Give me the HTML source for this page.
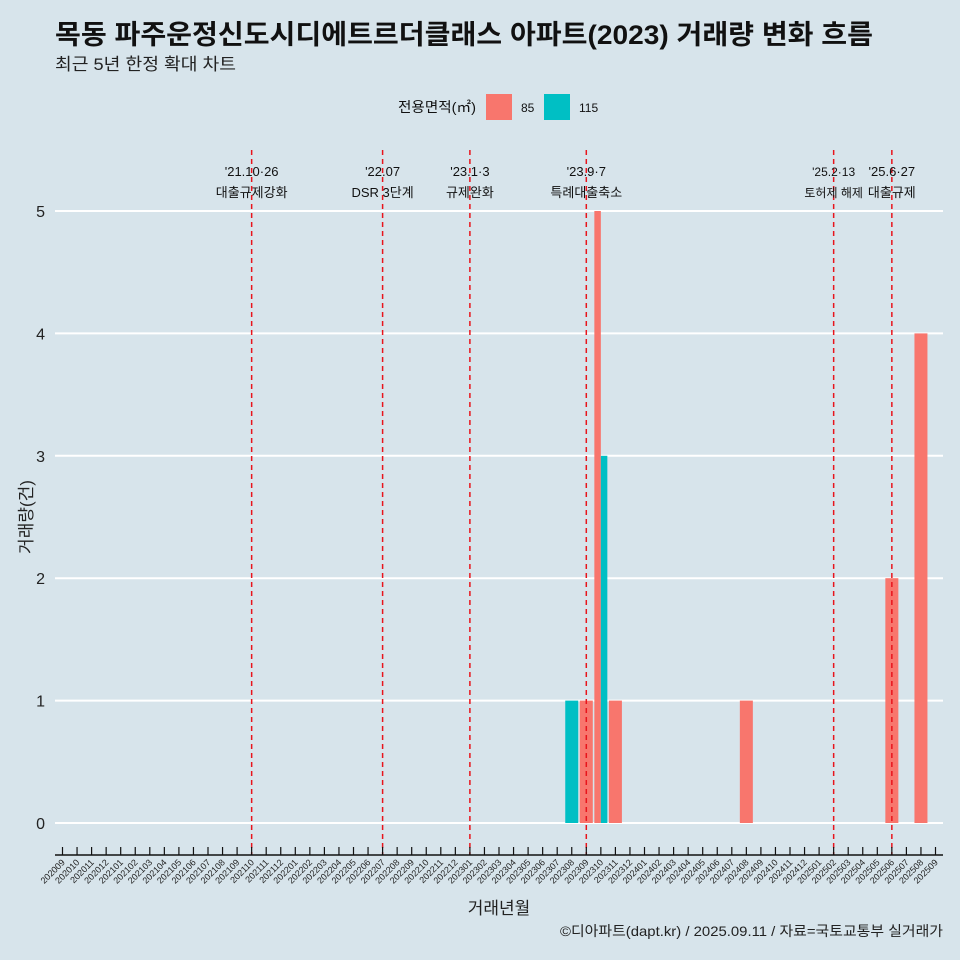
<!DOCTYPE html>
<html><head><meta charset="utf-8"><style>
body{margin:0;background:#d7e4eb;font-family:"Liberation Sans","Noto Sans CJK KR",sans-serif;overflow:hidden}
svg text{font-family:"Liberation Sans","Noto Sans CJK KR",sans-serif}
</style></head><body>
<svg id="c" width="960" height="960" style="display:block">
<rect width="960" height="960" fill="#d7e4eb"/>
<text x="55" y="44" font-size="27" font-weight="bold" fill="#111" textLength="818" lengthAdjust="spacingAndGlyphs">목동 파주운정신도시디에트르더클래스 아파트(2023) 거래량 변화 흐름</text>
<text x="55" y="70" font-size="17" fill="#222" textLength="181" lengthAdjust="spacingAndGlyphs">최근 5년 한정 확대 차트</text>
<g>
<text x="398" y="112" font-size="14" fill="#111" textLength="78" lengthAdjust="spacingAndGlyphs">전용면적(㎡)</text>
<rect x="486" y="94" width="26" height="26" fill="#F8766D"/>
<text x="521" y="112" font-size="12" fill="#111">85</text>
<rect x="544" y="94" width="26" height="26" fill="#00BFC4"/>
<text x="579" y="112" font-size="12" fill="#111">115</text>
</g>
<g id="grid"></g><g id="bars"></g><g id="vl"></g><g id="xa"></g>
<text x="32" y="517" font-size="17" fill="#222" transform="rotate(-90 32 517)" text-anchor="middle">거래량(건)</text>
<text x="499" y="914" font-size="17" fill="#222" text-anchor="middle">거래년월</text>
<text x="943" y="936" font-size="14" fill="#222" text-anchor="end" textLength="383" lengthAdjust="spacingAndGlyphs">©디아파트(dapt.kr) / 2025.09.11 / 자료=국토교통부 실거래가</text>
</svg>
<script>
const yTicks=[0,1,2,3,4,5];
const bars85=[["202309",1],["202310",5],["202311",1],["202408",1],["202506",2],["202508",4]];
const bars115=[["202308",1],["202310",3]];
const events=[["202110","'21.10·26","대출규제강화",13],["202207","'22.07","DSR 3단계",13],["202301","'23.1·3","규제완화",13],["202309","'23.9·7","특례대출축소",13],["202502","'25.2·13","토허제 해제",12],["202506","'25.6·27","대출규제",13]];
const months=[];for(let y=2020,m=9;y*100+m<=202509;){months.push(String(y*100+m));m++;if(m>12){m=1;y++;}}
const NS="http://www.w3.org/2000/svg";
function mk(t,a,p,txt){const e=document.createElementNS(NS,t);for(const k in a)e.setAttribute(k,a[k]);if(txt!=null)e.textContent=txt;document.getElementById(p).appendChild(e);return e;}
const X=m=>62.5+months.indexOf(m)*14.55, Y=v=>823-v*122.4, W=13;
yTicks.forEach(v=>{const l=mk('line',{x1:55,x2:943,y1:Y(v),y2:Y(v),stroke:'#fff','stroke-width':2},'grid');

const t=mk('text',{x:45,y:Y(v)+6,'font-size':16,'text-anchor':'end',fill:'#222'},'grid',v);
});
const both=new Set(bars85.map(d=>d[0]).filter(m=>bars115.some(b=>b[0]===m)));
function drawBar(d,col,side,nm){const c=X(d[0]);let x0=c-W/2,w=W;if(both.has(d[0])){w=W/2;x0=side?c:c-W/2;}
const r=mk('rect',{x:x0,y:Y(d[1]),width:w,height:Y(0)-Y(d[1]),fill:col},'bars');
}
bars85.forEach(d=>drawBar(d,'#F8766D',0,'bar-85'));bars115.forEach(d=>drawBar(d,'#00BFC4',1,'bar-115'));
events.forEach(e=>{const x=X(e[0]);const l=mk('line',{x1:x,x2:x,y1:150,y2:855,stroke:'#e8141c','stroke-width':1.5,'stroke-dasharray':'5,4'},'vl');

const t1=mk('text',{x:x,y:176,'font-size':e[3],'text-anchor':'middle',fill:'#111'},'vl',e[1]);

const t2=mk('text',{x:x,y:197,'font-size':e[3],'text-anchor':'middle',fill:'#111'},'vl',e[2]);
});
const ax=mk('line',{x1:55,x2:943,y1:855,y2:855,stroke:'#111','stroke-width':1.5},'xa');

months.forEach(m=>{const x=X(m);mk('line',{x1:x,x2:x,y1:847,y2:855,stroke:'#111','stroke-width':1.2},'xa');
const t=mk('text',{x:x+3,y:863,'font-size':9,'text-anchor':'end',fill:'#222',transform:`rotate(-45 ${x+3} 863)`},'xa',m);
});
</script>
</body></html>
